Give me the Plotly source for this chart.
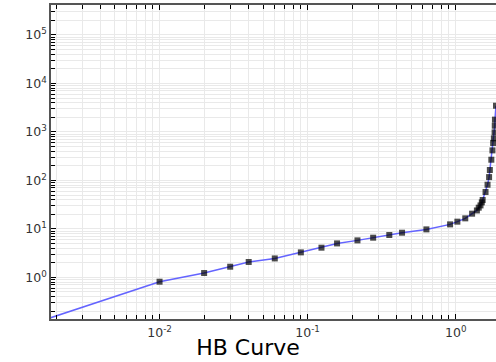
import plotly.graph_objects as go

# H-B curve data (x, y)
x_vals = [0.0015, 0.01, 0.02, 0.03, 0.04, 0.06, 0.09, 0.124, 0.158, 0.217, 0.277, 0.356, 0.434, 0.634,
          0.916, 1.026, 1.16, 1.29, 1.39, 1.43, 1.47, 1.50, 1.52, 1.59, 1.64, 1.68, 1.70,
          1.74, 1.77, 1.79, 1.81, 1.83, 1.835, 1.84, 1.87]
y_vals = [0.12, 0.815, 1.23, 1.66, 2.08, 2.46, 3.28, 4.1, 5.02, 5.8, 6.59, 7.49, 8.35, 9.77,
          12.4, 14.1, 16.5, 20.6, 24.0, 27.4, 30.5, 35.2, 39.4, 57.6, 81.5, 117, 164,
          267, 416, 590, 735, 977, 1343, 1790, 3470]
show_marker = [False] + [True] * (len(x_vals) - 1)

x_major = [0.01, 0.1, 1]
x_major_text = ["10<sup>-2</sup>", "10<sup>-1</sup>", "10<sup>0</sup>"]
y_major = [1, 10, 100, 1000, 10000, 100000]
y_major_text = ["10<sup>0</sup>", "10<sup>1</sup>", "10<sup>2</sup>", "10<sup>3</sup>",
                "10<sup>4</sup>", "10<sup>5</sup>"]

def minors(lo, hi):
    out = []
    for e in range(lo, hi + 1):
        for m in range(2, 10):
            out.append(m * 10 ** e)
    return out

x_minor = minors(-3, 0)
y_minor = minors(-1, 5)

fig = go.Figure()
fig.add_trace(go.Scatter(
    x=x_vals, y=y_vals, mode="lines+markers",
    line=dict(color="#6464ff", width=1.5),
    marker=dict(symbol="square", color="black", line=dict(width=0),
                size=[6 if s else 0 for s in show_marker]),
    showlegend=False,
))

grid_c = "#e9e9e9"
fig.update_layout(
    width=496, height=362,
    margin=dict(l=51, r=0, t=5, b=43),
    paper_bgcolor="white", plot_bgcolor="white",
    font=dict(family="DejaVu Sans", size=12.5, color="#333333"),
    title=dict(text="HB Curve", xref="container", yref="container", x=0.5, y=0.04,
               xanchor="center", yanchor="middle",
               font=dict(size=22, color="black", family="DejaVu Sans")),
    xaxis=dict(
        type="log", range=[-2.733, 0.272],
        tickmode="array", tickvals=x_major, ticktext=x_major_text,
        ticks="inside", ticklen=5, tickcolor="black", tickwidth=1,
        ticklabelstandoff=1,
        showline=True, linecolor="#555555", linewidth=1.5, mirror="allticks",
        showgrid=True, gridcolor=grid_c, gridwidth=1,
        minor=dict(tickvals=x_minor, ticks="inside", ticklen=4, tickcolor="black",
                   showgrid=True, gridcolor=grid_c, gridwidth=1),
        zeroline=False,
    ),
    yaxis=dict(
        type="log", range=[-0.858, 5.617],
        tickmode="array", tickvals=y_major, ticktext=y_major_text,
        ticks="inside", ticklen=5, tickcolor="black", tickwidth=1,
        showline=True, linecolor="#555555", linewidth=1.5, mirror=False,
        showgrid=True, gridcolor=grid_c, gridwidth=1,
        minor=dict(tickvals=y_minor, ticks="inside", ticklen=4, tickcolor="black",
                   showgrid=True, gridcolor=grid_c, gridwidth=1),
        zeroline=False,
    ),
)

fig.write_html("out.html")
